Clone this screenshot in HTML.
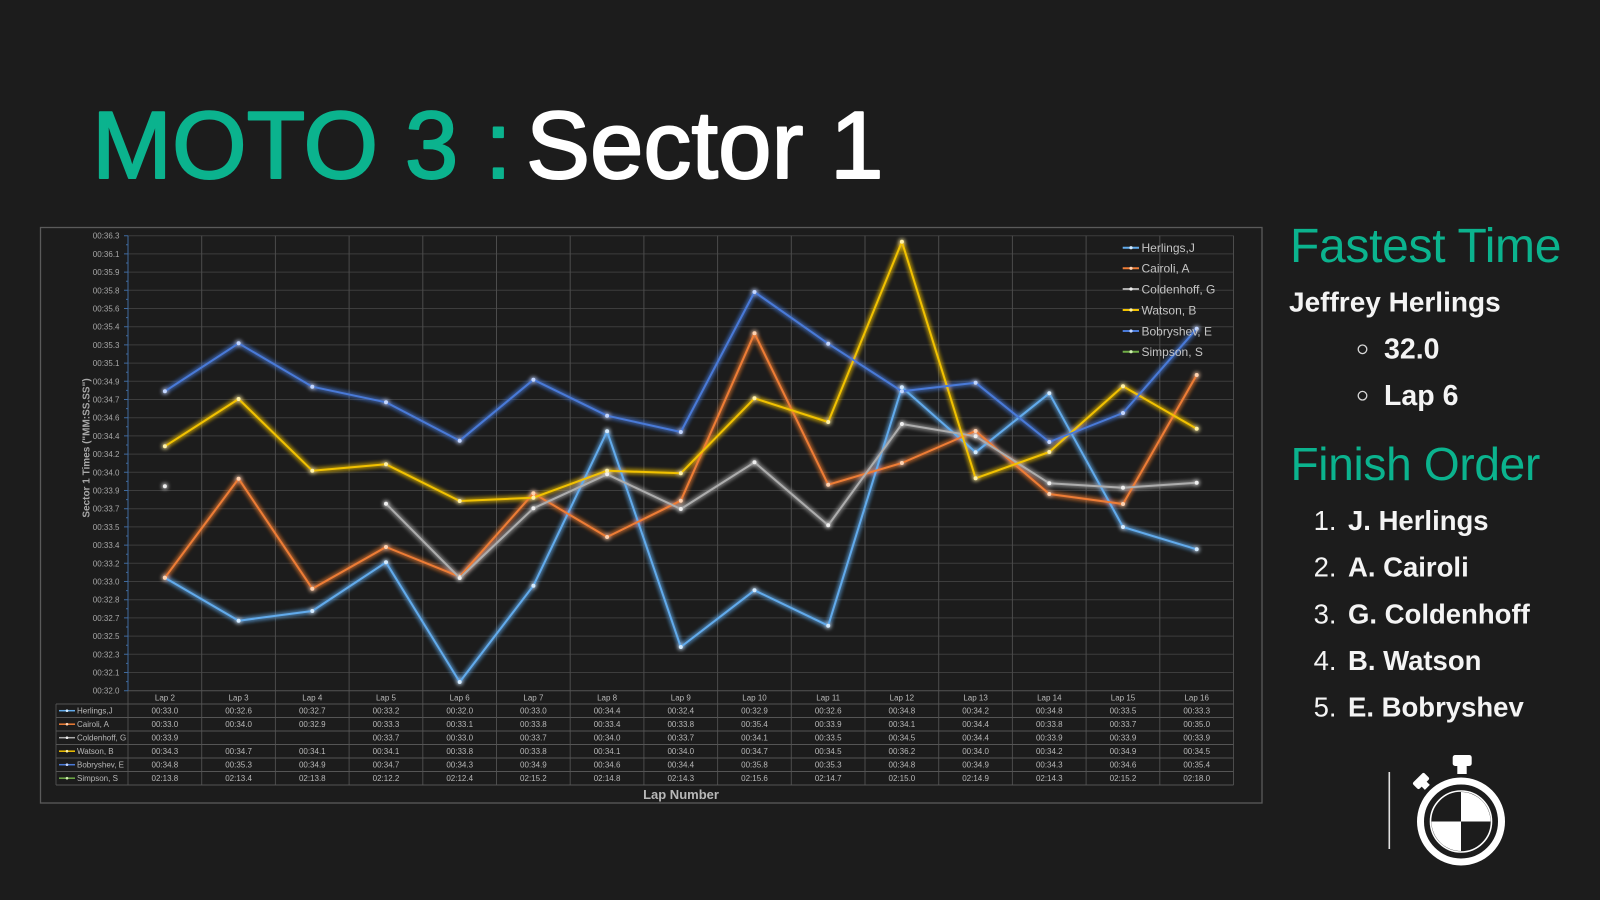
<!DOCTYPE html>
<html>
<head>
<meta charset="utf-8">
<style>
  html,body{margin:0;padding:0;background:#1c1c1c;}
  body{width:1600px;height:900px;overflow:hidden;}
  svg{display:block;}
  text{font-family:"Liberation Sans", sans-serif;}
</style>
</head>
<body>
<svg width="1600" height="900" viewBox="0 0 1600 900" xmlns="http://www.w3.org/2000/svg">
  <defs>
    <filter id="glow" filterUnits="userSpaceOnUse" x="0" y="0" width="1600" height="900">
      <feGaussianBlur in="SourceGraphic" stdDeviation="2.4" result="b"/>
      <feMerge><feMergeNode in="b"/><feMergeNode in="b"/><feMergeNode in="SourceGraphic"/></feMerge>
    </filter>
    <marker id="mH" markerUnits="userSpaceOnUse" markerWidth="6" markerHeight="6" refX="3" refY="3"><circle cx="3" cy="3" r="2" fill="#d4ebff"/></marker>
    <marker id="mC" markerUnits="userSpaceOnUse" markerWidth="6" markerHeight="6" refX="3" refY="3"><circle cx="3" cy="3" r="2" fill="#ffd2b0"/></marker>
    <marker id="mG" markerUnits="userSpaceOnUse" markerWidth="6" markerHeight="6" refX="3" refY="3"><circle cx="3" cy="3" r="2" fill="#f0f0f0"/></marker>
    <marker id="mW" markerUnits="userSpaceOnUse" markerWidth="6" markerHeight="6" refX="3" refY="3"><circle cx="3" cy="3" r="2" fill="#fff1a8"/></marker>
    <marker id="mB" markerUnits="userSpaceOnUse" markerWidth="6" markerHeight="6" refX="3" refY="3"><circle cx="3" cy="3" r="2" fill="#c3d6ff"/></marker>
  </defs>

  <rect x="0" y="0" width="1600" height="900" fill="#1c1c1c"/>

  <!-- Title -->
  <text x="92" y="178" font-size="96" fill="#0bb38e" stroke="#0bb38e" stroke-width="2" stroke-linejoin="round">MOTO 3 :</text>
  <text x="526" y="178" font-size="96" fill="#ffffff" stroke="#ffffff" stroke-width="2" stroke-linejoin="round">Sector 1</text>

  <!-- Chart frame -->
  <rect x="40.5" y="227.5" width="1221.5" height="575.5" fill="#1c1c1c" stroke="#5a5a5a" stroke-width="1.3"/>

  <!-- Horizontal gridlines -->
  <g stroke="#3d3d3d" stroke-width="1">
    <line x1="128" y1="235.7" x2="1233.5" y2="235.7"/>
    <line x1="128" y1="253.9" x2="1233.5" y2="253.9"/>
    <line x1="128" y1="272.1" x2="1233.5" y2="272.1"/>
    <line x1="128" y1="290.3" x2="1233.5" y2="290.3"/>
    <line x1="128" y1="308.5" x2="1233.5" y2="308.5"/>
    <line x1="128" y1="326.7" x2="1233.5" y2="326.7"/>
    <line x1="128" y1="344.9" x2="1233.5" y2="344.9"/>
    <line x1="128" y1="363.1" x2="1233.5" y2="363.1"/>
    <line x1="128" y1="381.3" x2="1233.5" y2="381.3"/>
    <line x1="128" y1="399.5" x2="1233.5" y2="399.5"/>
    <line x1="128" y1="417.7" x2="1233.5" y2="417.7"/>
    <line x1="128" y1="435.9" x2="1233.5" y2="435.9"/>
    <line x1="128" y1="454.1" x2="1233.5" y2="454.1"/>
    <line x1="128" y1="472.3" x2="1233.5" y2="472.3"/>
    <line x1="128" y1="490.5" x2="1233.5" y2="490.5"/>
    <line x1="128" y1="508.7" x2="1233.5" y2="508.7"/>
    <line x1="128" y1="526.9" x2="1233.5" y2="526.9"/>
    <line x1="128" y1="545.1" x2="1233.5" y2="545.1"/>
    <line x1="128" y1="563.3" x2="1233.5" y2="563.3"/>
    <line x1="128" y1="581.5" x2="1233.5" y2="581.5"/>
    <line x1="128" y1="599.7" x2="1233.5" y2="599.7"/>
    <line x1="128" y1="617.9" x2="1233.5" y2="617.9"/>
    <line x1="128" y1="636.1" x2="1233.5" y2="636.1"/>
    <line x1="128" y1="654.3" x2="1233.5" y2="654.3"/>
    <line x1="128" y1="672.5" x2="1233.5" y2="672.5"/>
  </g>
  <!-- Vertical gridlines / table columns -->
  <g stroke="#4c4c4c" stroke-width="1">
    <line x1="201.7" y1="235.7" x2="201.7" y2="785"/>
    <line x1="275.4" y1="235.7" x2="275.4" y2="785"/>
    <line x1="349.1" y1="235.7" x2="349.1" y2="785"/>
    <line x1="422.8" y1="235.7" x2="422.8" y2="785"/>
    <line x1="496.5" y1="235.7" x2="496.5" y2="785"/>
    <line x1="570.2" y1="235.7" x2="570.2" y2="785"/>
    <line x1="643.9" y1="235.7" x2="643.9" y2="785"/>
    <line x1="717.6" y1="235.7" x2="717.6" y2="785"/>
    <line x1="791.3" y1="235.7" x2="791.3" y2="785"/>
    <line x1="865" y1="235.7" x2="865" y2="785"/>
    <line x1="938.7" y1="235.7" x2="938.7" y2="785"/>
    <line x1="1012.4" y1="235.7" x2="1012.4" y2="785"/>
    <line x1="1086.1" y1="235.7" x2="1086.1" y2="785"/>
    <line x1="1159.8" y1="235.7" x2="1159.8" y2="785"/>
    <line x1="1233.5" y1="235.7" x2="1233.5" y2="785"/>
    <line x1="128" y1="690.7" x2="128" y2="785"/>
    <line x1="56" y1="704" x2="56" y2="785"/>
  </g>
  <!-- Table horizontal lines -->
  <g stroke="#555" stroke-width="1">
    <line x1="128" y1="690.7" x2="1233.5" y2="690.7"/>
    <line x1="56" y1="704" x2="1233.5" y2="704"/>
    <line x1="56" y1="717.5" x2="1233.5" y2="717.5"/>
    <line x1="56" y1="731" x2="1233.5" y2="731"/>
    <line x1="56" y1="744.5" x2="1233.5" y2="744.5"/>
    <line x1="56" y1="758" x2="1233.5" y2="758"/>
    <line x1="56" y1="771.5" x2="1233.5" y2="771.5"/>
    <line x1="56" y1="785" x2="1233.5" y2="785"/>
  </g>

  <!-- Y axis line with ticks -->
  <g stroke="#3f6a9e" stroke-width="1">
    <line x1="128" y1="235.7" x2="128" y2="690.7"/>
    <path d="M124,235.7h4M124,253.9h4M124,272.1h4M124,290.3h4M124,308.5h4M124,326.7h4M124,344.9h4M124,363.1h4M124,381.3h4M124,399.5h4M124,417.7h4M124,435.9h4M124,454.1h4M124,472.3h4M124,490.5h4M124,508.7h4M124,526.9h4M124,545.1h4M124,563.3h4M124,581.5h4M124,599.7h4M124,617.9h4M124,636.1h4M124,654.3h4M124,672.5h4M124,690.7h4"/>
    <path d="M126,244.8h2M126,263h2M126,281.2h2M126,299.4h2M126,317.6h2M126,335.8h2M126,354h2M126,372.2h2M126,390.4h2M126,408.6h2M126,426.8h2M126,445h2M126,463.2h2M126,481.4h2M126,499.6h2M126,517.8h2M126,536h2M126,554.2h2M126,572.4h2M126,590.6h2M126,608.8h2M126,627h2M126,645.2h2M126,663.4h2M126,681.6h2"/>
  </g>

  <!-- Y tick labels -->
  <g font-size="8" fill="#a8a8a8" text-anchor="end">
    <text x="119.5" y="238.7">00:36.3</text>
    <text x="119.5" y="256.9">00:36.1</text>
    <text x="119.5" y="275.1">00:35.9</text>
    <text x="119.5" y="293.3">00:35.8</text>
    <text x="119.5" y="311.5">00:35.6</text>
    <text x="119.5" y="329.7">00:35.4</text>
    <text x="119.5" y="347.9">00:35.3</text>
    <text x="119.5" y="366.1">00:35.1</text>
    <text x="119.5" y="384.3">00:34.9</text>
    <text x="119.5" y="402.5">00:34.7</text>
    <text x="119.5" y="420.7">00:34.6</text>
    <text x="119.5" y="438.9">00:34.4</text>
    <text x="119.5" y="457.1">00:34.2</text>
    <text x="119.5" y="475.3">00:34.0</text>
    <text x="119.5" y="493.5">00:33.9</text>
    <text x="119.5" y="511.7">00:33.7</text>
    <text x="119.5" y="529.9">00:33.5</text>
    <text x="119.5" y="548.1">00:33.4</text>
    <text x="119.5" y="566.3">00:33.2</text>
    <text x="119.5" y="584.5">00:33.0</text>
    <text x="119.5" y="602.7">00:32.8</text>
    <text x="119.5" y="620.9">00:32.7</text>
    <text x="119.5" y="639.1">00:32.5</text>
    <text x="119.5" y="657.3">00:32.3</text>
    <text x="119.5" y="675.5">00:32.1</text>
    <text x="119.5" y="693.7">00:32.0</text>
  </g>

  <!-- Y axis title -->
  <text transform="translate(89.5,448) rotate(-90)" text-anchor="middle" font-size="10" font-weight="bold" fill="#a8a8a8">Sector 1 Times ("MM:SS.SS")</text>

  <!-- Series -->
  <g fill="none" stroke-width="2" stroke-linejoin="round" filter="url(#glow)">
    <polyline stroke="#62abec" marker-start="url(#mH)" marker-mid="url(#mH)" marker-end="url(#mH)"
      points="164.9,577.7 238.6,620.7 312.3,611 386,562.3 459.7,682 533.4,585.7 607.1,431.3 680.8,647 754.5,590.3 828.2,625.7 901.9,387.3 975.6,452.3 1049.3,393.3 1123,527 1196.7,549.3"/>
    <polyline stroke="#ee7d36" marker-start="url(#mC)" marker-mid="url(#mC)" marker-end="url(#mC)"
      points="164.9,577.7 238.6,478.7 312.3,588.7 386,547 459.7,576.7 533.4,493.3 607.1,537 680.8,500.7 754.5,333.3 828.2,484.7 901.9,463 975.6,431 1049.3,494 1123,504 1196.7,375"/>
    <polyline stroke="#adadad" marker-start="url(#mG)" marker-mid="url(#mG)" marker-end="url(#mG)"
      points="386,503.7 459.7,578 533.4,508.3 607.1,474.3 680.8,509 754.5,462.3 828.2,525.3 901.9,424 975.6,436.3 1049.3,483.3 1123,487.7 1196.7,482.7"/>
    <circle cx="164.9" cy="486.3" r="2" fill="#eeeeee" stroke="none"/>
    <polyline stroke="#f2c200" marker-start="url(#mW)" marker-mid="url(#mW)" marker-end="url(#mW)"
      points="164.9,446.3 238.6,399 312.3,470.7 386,464.3 459.7,501 533.4,497.7 607.1,470.7 680.8,473.3 754.5,398.3 828.2,422 901.9,241.7 975.6,478.3 1049.3,452 1123,386.3 1196.7,428.7"/>
    <polyline stroke="#4a7ad8" marker-start="url(#mB)" marker-mid="url(#mB)" marker-end="url(#mB)"
      points="164.9,391.3 238.6,343.3 312.3,386.7 386,402.3 459.7,440.7 533.4,379.7 607.1,415.7 680.8,432 754.5,292 828.2,343.7 901.9,391.3 975.6,382.7 1049.3,442 1123,413 1196.7,328.7"/>
  </g>

  <!-- Legend -->
  <g font-size="12" fill="#c4c4c4">
    <line x1="1122.7" y1="247.7" x2="1139" y2="247.7" stroke="#62abec" stroke-width="2"/><circle cx="1131" cy="247.7" r="1.6" fill="#d4ebff"/>
    <text x="1141.5" y="252">Herlings,J</text>
    <line x1="1122.7" y1="268.3" x2="1139" y2="268.3" stroke="#ee7d36" stroke-width="2"/><circle cx="1131" cy="268.3" r="1.6" fill="#ffd2b0"/>
    <text x="1141.5" y="272.6">Cairoli, A</text>
    <line x1="1122.7" y1="289" x2="1139" y2="289" stroke="#adadad" stroke-width="2"/><circle cx="1131" cy="289" r="1.6" fill="#f0f0f0"/>
    <text x="1141.5" y="293.3">Coldenhoff, G</text>
    <line x1="1122.7" y1="310" x2="1139" y2="310" stroke="#f2c200" stroke-width="2"/><circle cx="1131" cy="310" r="1.6" fill="#fff1a8"/>
    <text x="1141.5" y="314.3">Watson, B</text>
    <line x1="1122.7" y1="331" x2="1139" y2="331" stroke="#4a7ad8" stroke-width="2"/><circle cx="1131" cy="331" r="1.6" fill="#c3d6ff"/>
    <text x="1141.5" y="335.3">Bobryshev, E</text>
    <line x1="1122.7" y1="351.7" x2="1139" y2="351.7" stroke="#70ad47" stroke-width="2"/><circle cx="1131" cy="351.7" r="1.6" fill="#d0f0b0"/>
    <text x="1141.5" y="356">Simpson, S</text>
  </g>

  <!-- Table header -->
  <g font-size="8" fill="#b8b8b8" text-anchor="middle">
    <text x="164.9" y="700.3">Lap 2</text>
    <text x="238.6" y="700.3">Lap 3</text>
    <text x="312.3" y="700.3">Lap 4</text>
    <text x="386" y="700.3">Lap 5</text>
    <text x="459.7" y="700.3">Lap 6</text>
    <text x="533.4" y="700.3">Lap 7</text>
    <text x="607.1" y="700.3">Lap 8</text>
    <text x="680.8" y="700.3">Lap 9</text>
    <text x="754.5" y="700.3">Lap 10</text>
    <text x="828.2" y="700.3">Lap 11</text>
    <text x="901.9" y="700.3">Lap 12</text>
    <text x="975.6" y="700.3">Lap 13</text>
    <text x="1049.3" y="700.3">Lap 14</text>
    <text x="1123" y="700.3">Lap 15</text>
    <text x="1196.7" y="700.3">Lap 16</text>
  </g>

  <!-- Table name column -->
  <g font-size="8" fill="#b8b8b8">
    <line x1="59" y1="710.7" x2="75" y2="710.7" stroke="#62abec" stroke-width="1.5"/><circle cx="67" cy="710.7" r="1.3" fill="#d4ebff"/>
    <text x="77" y="713.5">Herlings,J</text>
    <line x1="59" y1="724.2" x2="75" y2="724.2" stroke="#ee7d36" stroke-width="1.5"/><circle cx="67" cy="724.2" r="1.3" fill="#ffd2b0"/>
    <text x="77" y="727">Cairoli, A</text>
    <line x1="59" y1="737.7" x2="75" y2="737.7" stroke="#adadad" stroke-width="1.5"/><circle cx="67" cy="737.7" r="1.3" fill="#f0f0f0"/>
    <text x="77" y="740.5">Coldenhoff, G</text>
    <line x1="59" y1="751.2" x2="75" y2="751.2" stroke="#f2c200" stroke-width="1.5"/><circle cx="67" cy="751.2" r="1.3" fill="#fff1a8"/>
    <text x="77" y="754">Watson, B</text>
    <line x1="59" y1="764.7" x2="75" y2="764.7" stroke="#4a7ad8" stroke-width="1.5"/><circle cx="67" cy="764.7" r="1.3" fill="#c3d6ff"/>
    <text x="77" y="767.5">Bobryshev, E</text>
    <line x1="59" y1="778.2" x2="75" y2="778.2" stroke="#70ad47" stroke-width="1.5"/><circle cx="67" cy="778.2" r="1.3" fill="#d0f0b0"/>
    <text x="77" y="781">Simpson, S</text>
  </g>

  <!-- Table values -->
  <g font-size="8" fill="#b8b8b8" text-anchor="middle">
    <text x="164.9" y="713.5">00:33.0</text><text x="238.6" y="713.5">00:32.6</text><text x="312.3" y="713.5">00:32.7</text><text x="386" y="713.5">00:33.2</text><text x="459.7" y="713.5">00:32.0</text><text x="533.4" y="713.5">00:33.0</text><text x="607.1" y="713.5">00:34.4</text><text x="680.8" y="713.5">00:32.4</text><text x="754.5" y="713.5">00:32.9</text><text x="828.2" y="713.5">00:32.6</text><text x="901.9" y="713.5">00:34.8</text><text x="975.6" y="713.5">00:34.2</text><text x="1049.3" y="713.5">00:34.8</text><text x="1123" y="713.5">00:33.5</text><text x="1196.7" y="713.5">00:33.3</text>
    <text x="164.9" y="727">00:33.0</text><text x="238.6" y="727">00:34.0</text><text x="312.3" y="727">00:32.9</text><text x="386" y="727">00:33.3</text><text x="459.7" y="727">00:33.1</text><text x="533.4" y="727">00:33.8</text><text x="607.1" y="727">00:33.4</text><text x="680.8" y="727">00:33.8</text><text x="754.5" y="727">00:35.4</text><text x="828.2" y="727">00:33.9</text><text x="901.9" y="727">00:34.1</text><text x="975.6" y="727">00:34.4</text><text x="1049.3" y="727">00:33.8</text><text x="1123" y="727">00:33.7</text><text x="1196.7" y="727">00:35.0</text>
    <text x="164.9" y="740.5">00:33.9</text><text x="386" y="740.5">00:33.7</text><text x="459.7" y="740.5">00:33.0</text><text x="533.4" y="740.5">00:33.7</text><text x="607.1" y="740.5">00:34.0</text><text x="680.8" y="740.5">00:33.7</text><text x="754.5" y="740.5">00:34.1</text><text x="828.2" y="740.5">00:33.5</text><text x="901.9" y="740.5">00:34.5</text><text x="975.6" y="740.5">00:34.4</text><text x="1049.3" y="740.5">00:33.9</text><text x="1123" y="740.5">00:33.9</text><text x="1196.7" y="740.5">00:33.9</text>
    <text x="164.9" y="754">00:34.3</text><text x="238.6" y="754">00:34.7</text><text x="312.3" y="754">00:34.1</text><text x="386" y="754">00:34.1</text><text x="459.7" y="754">00:33.8</text><text x="533.4" y="754">00:33.8</text><text x="607.1" y="754">00:34.1</text><text x="680.8" y="754">00:34.0</text><text x="754.5" y="754">00:34.7</text><text x="828.2" y="754">00:34.5</text><text x="901.9" y="754">00:36.2</text><text x="975.6" y="754">00:34.0</text><text x="1049.3" y="754">00:34.2</text><text x="1123" y="754">00:34.9</text><text x="1196.7" y="754">00:34.5</text>
    <text x="164.9" y="767.5">00:34.8</text><text x="238.6" y="767.5">00:35.3</text><text x="312.3" y="767.5">00:34.9</text><text x="386" y="767.5">00:34.7</text><text x="459.7" y="767.5">00:34.3</text><text x="533.4" y="767.5">00:34.9</text><text x="607.1" y="767.5">00:34.6</text><text x="680.8" y="767.5">00:34.4</text><text x="754.5" y="767.5">00:35.8</text><text x="828.2" y="767.5">00:35.3</text><text x="901.9" y="767.5">00:34.8</text><text x="975.6" y="767.5">00:34.9</text><text x="1049.3" y="767.5">00:34.3</text><text x="1123" y="767.5">00:34.6</text><text x="1196.7" y="767.5">00:35.4</text>
    <text x="164.9" y="781">02:13.8</text><text x="238.6" y="781">02:13.4</text><text x="312.3" y="781">02:13.8</text><text x="386" y="781">02:12.2</text><text x="459.7" y="781">02:12.4</text><text x="533.4" y="781">02:15.2</text><text x="607.1" y="781">02:14.8</text><text x="680.8" y="781">02:14.3</text><text x="754.5" y="781">02:15.6</text><text x="828.2" y="781">02:14.7</text><text x="901.9" y="781">02:15.0</text><text x="975.6" y="781">02:14.9</text><text x="1049.3" y="781">02:14.3</text><text x="1123" y="781">02:15.2</text><text x="1196.7" y="781">02:18.0</text>
  </g>

  <!-- X axis title -->
  <text x="681" y="799" text-anchor="middle" font-size="13" font-weight="bold" fill="#b8b8b8">Lap Number</text>

  <!-- Right panel -->
  <text x="1290" y="262" font-size="48" fill="#0bb38e" letter-spacing="-0.3">Fastest Time</text>
  <text x="1289" y="311.5" font-size="28" font-weight="bold" fill="#f4f4f4">Jeffrey Herlings</text>
  <circle cx="1362.5" cy="349.3" r="4.3" fill="none" stroke="#d8d8d8" stroke-width="1.3"/>
  <text x="1384" y="358.3" font-size="28.5" font-weight="bold" fill="#f4f4f4">32.0</text>
  <circle cx="1362.5" cy="395.7" r="4.3" fill="none" stroke="#d8d8d8" stroke-width="1.3"/>
  <text x="1384" y="405" font-size="28.5" font-weight="bold" fill="#f4f4f4">Lap 6</text>

  <text x="1290.5" y="480" font-size="46" fill="#0bb38e" letter-spacing="-0.3">Finish Order</text>
  <g font-size="27.5" fill="#f4f4f4">
    <text x="1336.5" y="530" text-anchor="end">1.</text>
    <text x="1348" y="530" font-weight="bold">J. Herlings</text>
    <text x="1336.5" y="576.7" text-anchor="end">2.</text>
    <text x="1348" y="576.7" font-weight="bold">A. Cairoli</text>
    <text x="1336.5" y="623.3" text-anchor="end">3.</text>
    <text x="1348" y="623.3" font-weight="bold">G. Coldenhoff</text>
    <text x="1336.5" y="670" text-anchor="end">4.</text>
    <text x="1348" y="670" font-weight="bold">B. Watson</text>
    <text x="1336.5" y="716.7" text-anchor="end">5.</text>
    <text x="1348" y="716.7" font-weight="bold">E. Bobryshev</text>
  </g>

  <!-- Stopwatch icon -->
  <line x1="1389.3" y1="772" x2="1389.3" y2="849" stroke="#e0e0e0" stroke-width="1.6"/>
  <g fill="#ffffff">
    <circle cx="1461" cy="821.5" r="40.5" fill="none" stroke="#ffffff" stroke-width="7"/>
    <circle cx="1461" cy="821.5" r="30.5" fill="none" stroke="#ffffff" stroke-width="1.6"/>
    <path d="M1461,821.5 L1461,792 A29.5,29.5 0 0 1 1490.5,821.5 Z"/>
    <path d="M1461,821.5 L1461,851 A29.5,29.5 0 0 1 1431.5,821.5 Z"/>
    <rect x="1452.7" y="755" width="19" height="11" rx="2.5"/>
    <rect x="1457.3" y="764" width="9.4" height="10"/>
    <g transform="rotate(-45 1421 781)">
      <rect x="1413" y="776.5" width="16" height="9" rx="2"/>
      <rect x="1417.5" y="784" width="7" height="6"/>
    </g>
  </g>
</svg>
</body>
</html>
